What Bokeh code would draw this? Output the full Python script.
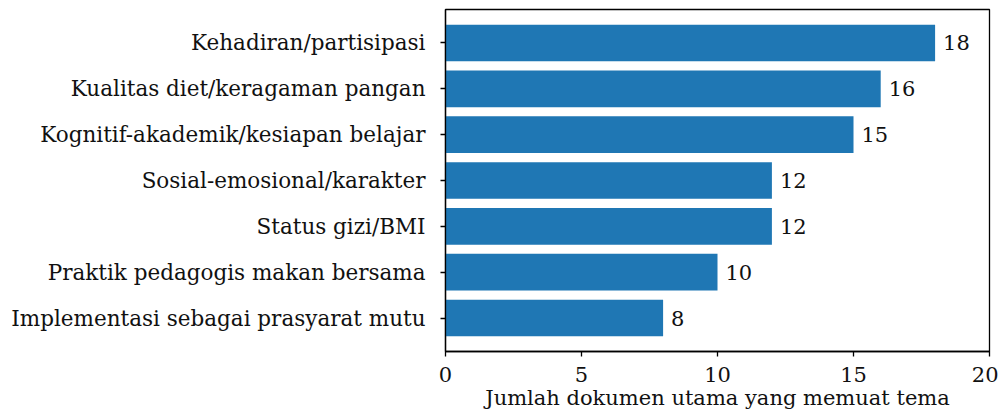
from bokeh.plotting import figure
from bokeh.models import ColumnDataSource, Range1d, FixedTicker
from bokeh.core.properties import value
from bokeh.embed import file_html
from bokeh.resources import INLINE

categories = [
    "Implementasi sebagai prasyarat mutu",
    "Praktik pedagogis makan bersama",
    "Status gizi/BMI",
    "Sosial-emosional/karakter",
    "Kognitif-akademik/kesiapan belajar",
    "Kualitas diet/keragaman pangan",
    "Kehadiran/partisipasi",
]
counts = [8, 10, 12, 12, 15, 16, 18]
x_ticks = [0, 5, 10, 15, 20]

FONT = "DejaVu Serif"
FS = "21.5px"

pos = list(range(len(categories)))
src = ColumnDataSource(dict(y=pos, v=counts, lab=[str(c) for c in counts]))

p = figure(width=998, height=414, output_backend="svg", toolbar_location=None, title=None,
           x_range=Range1d(0, 20), y_range=Range1d(-0.73, 6.73),
           min_border_left=445, min_border_right=9, min_border_top=9, min_border_bottom=63)

p.hbar(y="y", right="v", left=0, height=0.8, source=src, color="#1f77b4", line_color=None)
p.text(x="v", y="y", text="lab", source=src, x_offset=8, text_baseline="middle",
       text_align="left", text_font=value(FONT), text_font_size="21px", text_color="#111111")

p.xgrid.visible = False
p.ygrid.visible = False
p.outline_line_color = "black"
p.outline_line_width = 1.3
p.outline_line_alpha = 1.0

p.xaxis.ticker = FixedTicker(ticks=x_ticks)
p.xaxis.axis_label = "Jumlah dokumen utama yang memuat tema"
p.yaxis.ticker = FixedTicker(ticks=pos)
p.yaxis.major_label_overrides = {i: c for i, c in zip(pos, categories)}

for ax in (p.xaxis[0], p.yaxis[0]):
    ax.axis_line_color = "black"
    ax.axis_line_width = 1.3
    ax.major_tick_line_color = "black"
    ax.major_tick_line_width = 1.3
    ax.major_tick_out = 5
    ax.major_tick_in = 0
    ax.minor_tick_line_color = None
    ax.major_label_text_font = FONT
    ax.major_label_text_font_size = FS
    ax.major_label_text_color = "#111111"
    ax.axis_label_text_font = FONT
    ax.axis_label_text_font_size = "21px"
    ax.axis_label_text_font_style = "normal"
    ax.axis_label_text_color = "#111111"

p.xaxis.major_label_text_font_size = "21px"
p.yaxis.major_label_standoff = 15
p.xaxis.major_label_standoff = 10
p.xaxis.axis_label_standoff = 1

open("out.html", "w").write(file_html(p, INLINE))
